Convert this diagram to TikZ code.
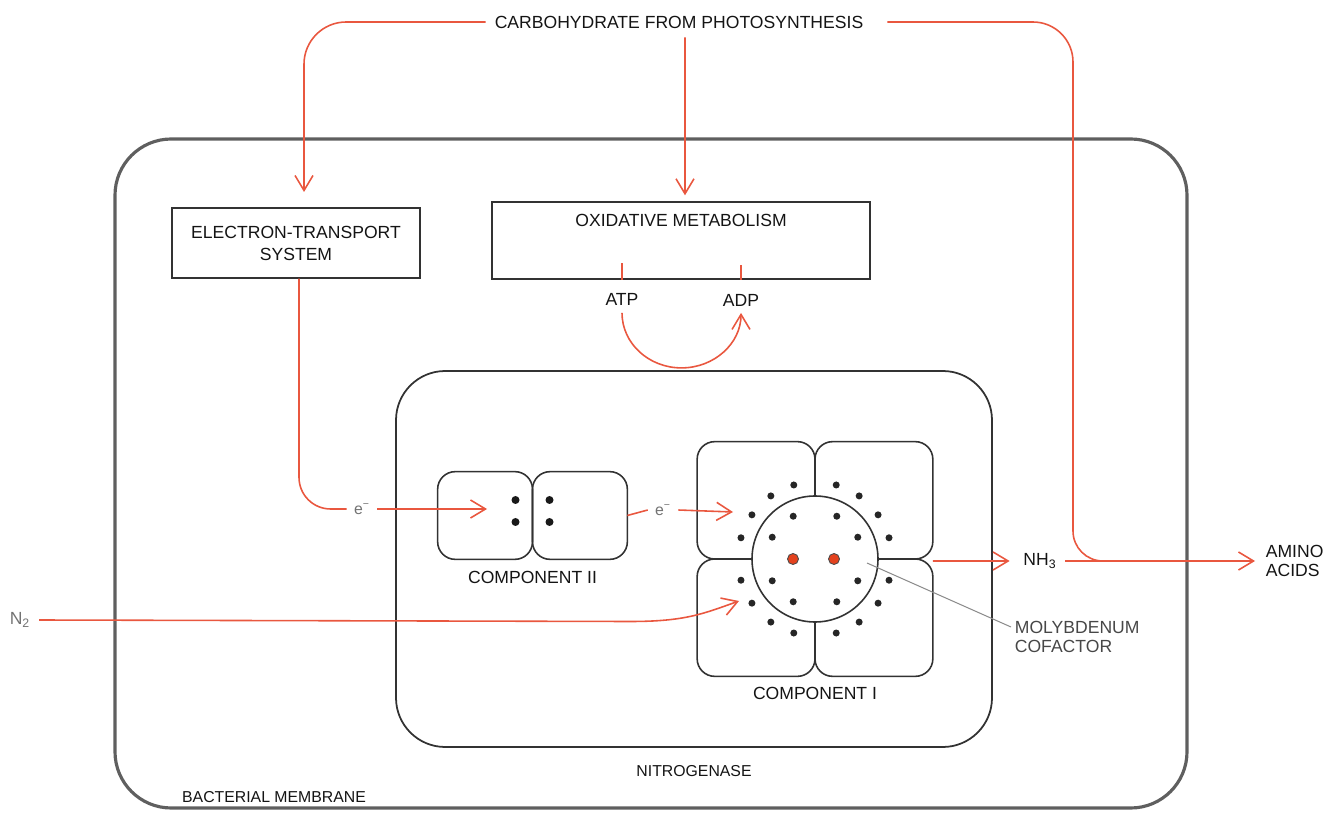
\documentclass[tikz,border=0pt]{standalone}
\usepackage{fontspec}
\setmainfont{Liberation Sans}
\usepackage{tikz}
\usetikzlibrary{
    arrows.meta,
    positioning
}
\definecolor{flowred}{RGB}{233,87,63}
\definecolor{cofred}{RGB}{228,66,30}
\definecolor{wallgray}{RGB}{95,95,95}
\definecolor{inkgray}{RGB}{50,50,50}
\tikzset{
    lbl/.style={font=\fontsize{10}{11.5}\selectfont, text=black!92, inner sep=2pt, align=center},
    small lbl/.style={lbl, font=\fontsize{9}{11}\selectfont},
    faint lbl/.style={lbl, text=black!55},
    flow/.style={draw=flowred, line width=0.9pt},
    flow arrow/.style={flow, -{Straight Barb[length=3mm, width=3.6mm]}},
    box/.style={draw=inkgray, line width=0.8pt},
    cell/.style={draw=inkgray, line width=0.9pt, rounded corners=10pt},
    pointer/.style={draw=black!45, line width=0.6pt}
}

\begin{document}
\begin{tikzpicture}
    \useasboundingbox (0,0) rectangle (26.46,16.30);

    \coordinate (etsin) at (6.08,12.46);
    \coordinate (c2in) at (9.74,6.12);
    \coordinate (c1in) at (14.66,6.06);
    \coordinate (ntwoin) at (14.78,4.28);
    \coordinate (molyin) at (17.34,5.04);
    \coordinate (merge) at (22.10,5.08);

    \node[draw=wallgray, line width=1.8pt, rounded corners=32pt, minimum width=21.44cm, minimum height=13.38cm] (wall) at (13.02,6.83) {};
    \node[draw=inkgray, line width=1pt, rounded corners=28pt, minimum width=11.92cm, minimum height=7.52cm] (nase) at (13.88,5.12) {};

    \node[lbl, inner sep=5pt] (carb) at (13.58,15.86) {CARBOHYDRATE FROM PHOTOSYNTHESIS};
    \node[box, lbl, font=\fontsize{10}{12.5}\selectfont, minimum width=4.96cm, minimum height=1.40cm] (ets) at (5.92,11.44) {ELECTRON-TRANSPORT\\SYSTEM};
    \node[box, minimum width=7.56cm, minimum height=1.54cm] (oxm) at (13.62,11.49) {};
    \node[lbl] (oxmtext) at (13.62,11.90) {OXIDATIVE METABOLISM};
    \node[lbl] (atp) at (12.44,10.32) {ATP};
    \node[lbl] (adp) at (14.82,10.30) {ADP};

    \node[minimum width=3.78cm, minimum height=1.74cm, inner sep=0pt] (c2) at (10.65,5.99) {};
    \node[minimum width=4.70cm, minimum height=4.68cm, inner sep=0pt] (c1) at (16.30,5.12) {};
    \node[lbl, below=0.17cm of c2] (c2lbl) {COMPONENT II};
    \node[lbl, below=0.15cm of c1] (c1lbl) {COMPONENT I};
    \node[small lbl, below=0.28cm of nase] (naselbl) {NITROGENASE};
    \node[small lbl] (walllbl) at (5.48,0.36) {BACTERIAL MEMBRANE};

    \node[faint lbl, font=\fontsize{9}{11}\selectfont, inner sep=4pt] (eone) at (7.24,6.12) {e\textsuperscript{−}};
    \node[faint lbl, font=\fontsize{9}{11}\selectfont, inner sep=4pt] (etwo) at (13.26,6.10) {e\textsuperscript{−}};
    \node[faint lbl] (ntwo) at (0.40,3.90) {N\textsubscript{2}};
    \node[lbl] (nh3) at (20.80,5.08) {NH\textsubscript{3}};
    \node[lbl, font=\fontsize{10}{10.5}\selectfont, align=left, anchor=west] (amino) at (25.24,5.08) {AMINO\\ACIDS};
    \node[lbl, font=\fontsize{10}{11.3}\selectfont, align=left, anchor=west, text=black!72] (moly) at (20.22,3.56) {MOLYBDENUM\\COFACTOR};

    \draw[cell] (c2.south west) rectangle (c2.north);
    \draw[cell] (c2.south) rectangle (c2.north east);
    \foreach \dx in {-0.34,0.34}
        \foreach \dy in {0.31,-0.13}
            \fill[black!90] ([shift={(\dx,\dy)}]c2.center) circle (0.08);

    \draw[cell] (c1.north west) rectangle (c1.center);
    \draw[cell] (c1.north) rectangle (c1.east);
    \draw[cell] (c1.west) rectangle (c1.south);
    \draw[cell] (c1.center) rectangle (c1.south east);
    \draw[cell, fill=white] (c1.center) circle (1.26);
    \foreach \a in {27,63,117,153,207,243,297,333}
        \fill[black!85] (c1.center) ++(\a:0.96) circle (0.07);
    \foreach \a in {16,35,55,74,106,125,145,164,196,215,235,254,286,305,325,344}
        \fill[black!85] (c1.center) ++(\a:1.54) circle (0.07);
    \foreach \dx in {-0.44,0.38}
        \filldraw[fill=cofred, draw=black!70, line width=0.5pt] ([xshift=\dx cm]c1.center) circle (0.11);

    \draw[flow arrow, rounded corners=24pt] (carb.west) -| (etsin);
    \draw[flow arrow, shorten >=0.12cm] ([xshift=0.12cm]carb.south) -- ([xshift=0.08cm]oxm.north);
    \draw[flow] ([xshift=0.3cm]carb.east) -- (20.66,15.86) arc[start angle=90, end angle=0, radius=0.8]
        -- (21.46,5.68) arc[start angle=180, end angle=270, radius=0.6] -- (merge);

    \draw[flow] (atp.north |- oxm.south) -- ++(0,0.34);
    \draw[flow] (adp.north |- oxm.south) -- ++(0,0.30);
    \draw[flow arrow] ([yshift=-0.08cm]atp.south) arc[start angle=180, end angle=360, x radius=1.19cm, y radius=1.1cm];

    \draw[flow, rounded corners=18pt] ([xshift=0.06cm]ets.south) |- (eone.west);
    \draw[flow arrow] (eone.east) -- (c2in);
    \draw[flow] (c2.east) -- (etwo.west);
    \draw[flow arrow] (etwo.east) -- (c1in);
    \draw[flow arrow] ([xshift=0.1cm]ntwo.east) -- (12.6,3.87) .. controls (13.7,3.87) and (14.05,4.02) .. (ntwoin);
    \draw[flow arrow, shorten >=0.2cm] ([yshift=-0.04cm]c1.east) -- (nh3.west);
    \draw[flow arrow, shorten <=0.1cm, shorten >=0.14cm] (nh3.east) -- (amino.west);

    \draw[pointer] (molyin) -- ([yshift=0.2cm]moly.west);
\end{tikzpicture}
\end{document}
